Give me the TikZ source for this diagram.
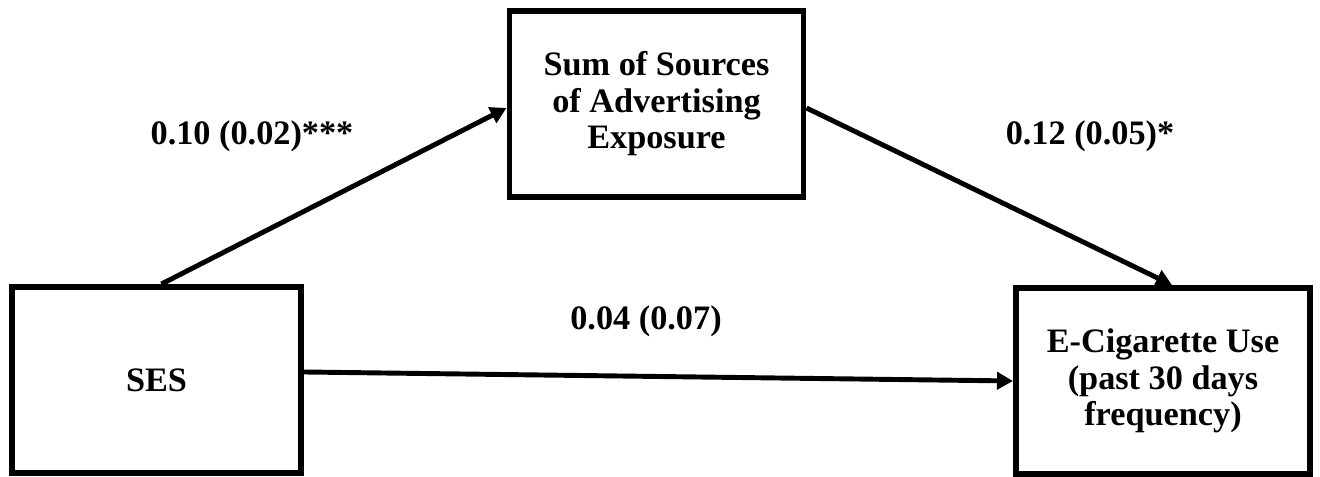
\documentclass[tikz,border=0pt]{standalone}
\usepackage{fontspec}
\setmainfont{Liberation Serif}
\usetikzlibrary{arrows.meta}
\begin{document}
\begin{tikzpicture}[
  varbox/.style={draw, line width=3.4pt, minimum width=5.88cm, minimum height=3.72cm, align=center,
    font=\bfseries\fontsize{19.5}{20.8}\selectfont},
  coef/.style={font=\bfseries\fontsize{19.5}{20.8}\selectfont},
  link/.style={line width=2.8pt, -{Triangle[length=0.32cm, width=0.34cm]}}
]
  \useasboundingbox (0,0) rectangle (26.4,9.54);

  \node[varbox, minimum width=5.78cm] (ses) at (3.13,1.94) {SES};
  \node[varbox] (adv) at (13.13,7.46) {Sum of Sources\\of Advertising\\Exposure};
  \node[varbox] (ecig) at (23.26,1.92) {E-Cigarette Use\\(past 30 days\\frequency)};

  \draw[link] ([xshift=0.1cm]ses.north) -- ([yshift=-0.08cm]adv.west);
  \draw[link] ([yshift=-0.08cm]adv.east) -- ([xshift=0.18cm]ecig.north);
  \draw[link] ([yshift=0.16cm]ses.east) -- (ecig.west);

  \node[coef] (sesadv) at (5.04,6.82) {0.10 (0.02)***};
  \node[coef] (advecig) at (21.8,6.82) {0.12 (0.05)*};
  \node[coef] (sesecig) at (12.92,3.12) {0.04 (0.07)};

\end{tikzpicture}
\end{document}
